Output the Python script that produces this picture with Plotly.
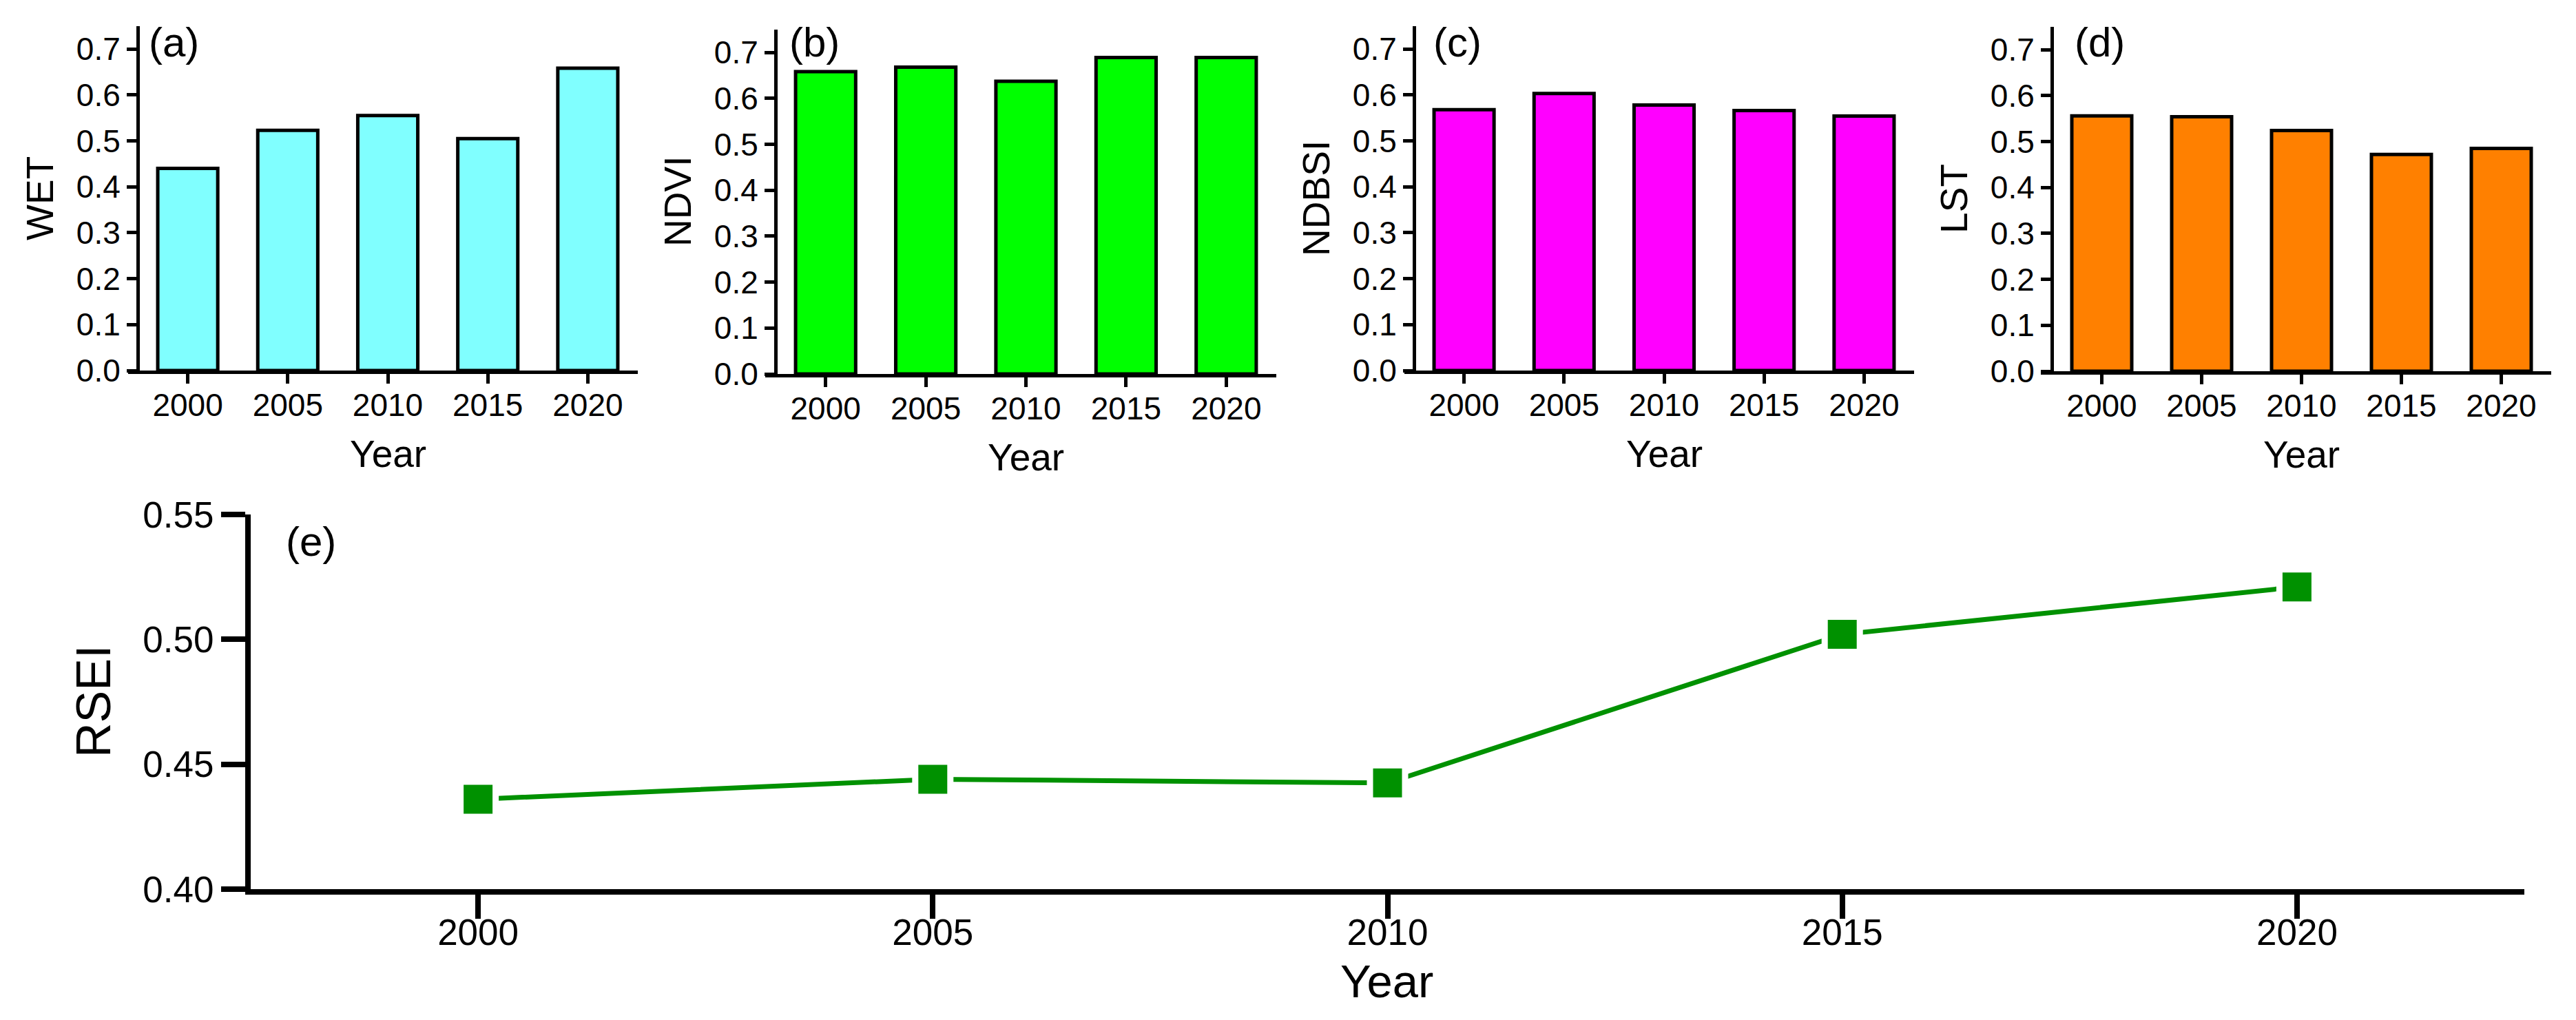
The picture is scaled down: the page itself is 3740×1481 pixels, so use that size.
import plotly.graph_objects as go

W, H = 3740, 1481
OFF = 8  # default page body margin in the browser

# ---------------- data ----------------
years = ["2000", "2005", "2010", "2015", "2020"]
WET = [0.440, 0.523, 0.555, 0.505, 0.658]
NDVI = [0.658, 0.668, 0.637, 0.689, 0.689]
NDBSI = [0.568, 0.603, 0.578, 0.566, 0.554]
LST = [0.556, 0.554, 0.524, 0.472, 0.485]
rsei_years = [2000, 2005, 2010, 2015, 2020]
RSEI = [0.436, 0.444, 0.4425, 0.502, 0.521]

bar_ticks = [0.0, 0.1, 0.2, 0.3, 0.4, 0.5, 0.6, 0.7]
rsei_ticks = [0.40, 0.45, 0.50, 0.55]

FONT = "Liberation Sans, Arial, sans-serif"

def fx(px):
    return (px - OFF) / W

def fy(py):
    return 1 - (py - OFF) / H

fig = go.Figure()

panels = [
    dict(vals=WET, title="WET", color="#80FFFF", yx=200, xl=186, xr=926, base=538, lab="(a)", labx=214),
    dict(vals=NDVI, title="NDVI", color="#00FF00", yx=1126, xl=1111, xr=1853, base=543, lab="(b)", labx=1144),
    dict(vals=NDBSI, title="NDBSI", color="#FF00FF", yx=2053, xl=2039, xr=2779, base=538, lab="(c)", labx=2079),
    dict(vals=LST, title="LST", color="#FF8000", yx=2979, xl=2963, xr=3704, base=539, lab="(d)", labx=3010),
]

annotations = []
layout = dict(
    width=W, height=H,
    margin=dict(l=0, r=0, t=0, b=0, pad=0, autoexpand=False),
    paper_bgcolor="white", plot_bgcolor="white",
    showlegend=False,
    font=dict(family=FONT, color="black"),
)

per01 = 66.7  # px per 0.1 in bar panels
for i, p in enumerate(panels, start=1):
    xa = "x" if i == 1 else f"x{i}"
    ya = "y" if i == 1 else f"y{i}"
    spacing = (p["xr"] - p["yx"]) / 5.0
    lo = -0.5 - (p["yx"] - p["xl"]) / spacing
    top = p["base"] - 7.5 * per01
    fig.add_trace(go.Bar(
        x=years, y=p["vals"], xaxis=xa, yaxis=ya, width=0.6,
        marker=dict(color=p["color"], line=dict(color="black", width=5)),
    ))
    layout["xaxis" if i == 1 else f"xaxis{i}"] = dict(
        domain=[fx(p["xl"]), fx(p["xr"])], anchor=ya, type="category",
        range=[lo, 4.5], showgrid=False, zeroline=False, automargin=False,
        showline=True, linecolor="black", linewidth=5,
        ticks="outside", ticklen=14, tickwidth=5, tickcolor="black",
        ticklabelstandoff=-8,
        tickfont=dict(size=46, family=FONT, color="black"),
    )
    layout["yaxis" if i == 1 else f"yaxis{i}"] = dict(
        domain=[fy(p["base"]), fy(top)], anchor="free", position=fx(p["yx"]),
        range=[0, 0.75], showgrid=False, zeroline=False, automargin=False,
        showline=True, linecolor="black", linewidth=5,
        ticks="outside", ticklen=14, tickwidth=5, tickcolor="black",
        tickvals=bar_ticks, ticktext=[f"{v:.1f}" for v in bar_ticks],
        tickfont=dict(size=46, family=FONT, color="black"),
    )
    annotations.append(dict(
        x=fx(p["yx"] - 142), y=fy((p["base"] + top) / 2), xref="paper", yref="paper",
        text=p["title"], textangle=-90, showarrow=False,
        font=dict(size=55, family=FONT, color="black"), xanchor="center", yanchor="middle",
    ))
    annotations.append(dict(
        x=fx(p["yx"] + 2.5 * spacing), y=fy(p["base"] + 121), xref="paper", yref="paper",
        text="Year", showarrow=False,
        font=dict(size=55, family=FONT, color="black"), xanchor="center", yanchor="middle",
    ))
    annotations.append(dict(
        x=fx(p["labx"]), y=fy(62), xref="paper", yref="paper",
        text=p["lab"], showarrow=False,
        font=dict(size=60, family=FONT, color="black"), xanchor="left", yanchor="middle",
    ))

# ---------------- panel (e) ----------------
# white marker outline leaves the small gap between line and symbol seen in the reference
fig.add_trace(go.Scatter(
    x=rsei_years, y=RSEI, xaxis="x5", yaxis="y5", mode="lines+markers",
    line=dict(color="#009100", width=7),
    marker=dict(symbol="square", size=51, color="#009100", line=dict(width=9, color="white")),
))
layout["xaxis5"] = dict(
    domain=[fx(364), fx(3665)], anchor="y5", range=[1997.5, 2022.5],
    tickvals=rsei_years, ticktext=[str(v) for v in rsei_years],
    showgrid=False, zeroline=False, automargin=False,
    showline=True, linecolor="black", linewidth=8,
    ticks="outside", ticklen=35, tickwidth=8, tickcolor="black",
    ticklabelstandoff=-26,
    tickfont=dict(size=53, family=FONT, color="black"),
)
layout["yaxis5"] = dict(
    domain=[fy(1291), fy(747)], anchor="x5", range=[0.40, 0.55],
    tickvals=rsei_ticks, ticktext=[f"{v:.2f}" for v in rsei_ticks],
    showgrid=False, zeroline=False, automargin=False,
    showline=True, linecolor="black", linewidth=8,
    ticks="outside", ticklen=35, tickwidth=8, tickcolor="black",
    tickfont=dict(size=53, family=FONT, color="black"),
)
annotations.append(dict(
    x=fx(136), y=fy(1019), xref="paper", yref="paper", text="RSEI", textangle=-90,
    showarrow=False, font=dict(size=70, family=FONT, color="black"),
    xanchor="center", yanchor="middle",
))
annotations.append(dict(
    x=fx(2013), y=fy(1424), xref="paper", yref="paper", text="Year",
    showarrow=False, font=dict(size=67, family=FONT, color="black"),
    xanchor="center", yanchor="middle",
))
annotations.append(dict(
    x=fx(413), y=fy(786), xref="paper", yref="paper", text="(e)",
    showarrow=False, font=dict(size=60, family=FONT, color="black"),
    xanchor="left", yanchor="middle",
))

layout["annotations"] = annotations
fig.update_layout(**layout)
fig.write_html("out.html")
